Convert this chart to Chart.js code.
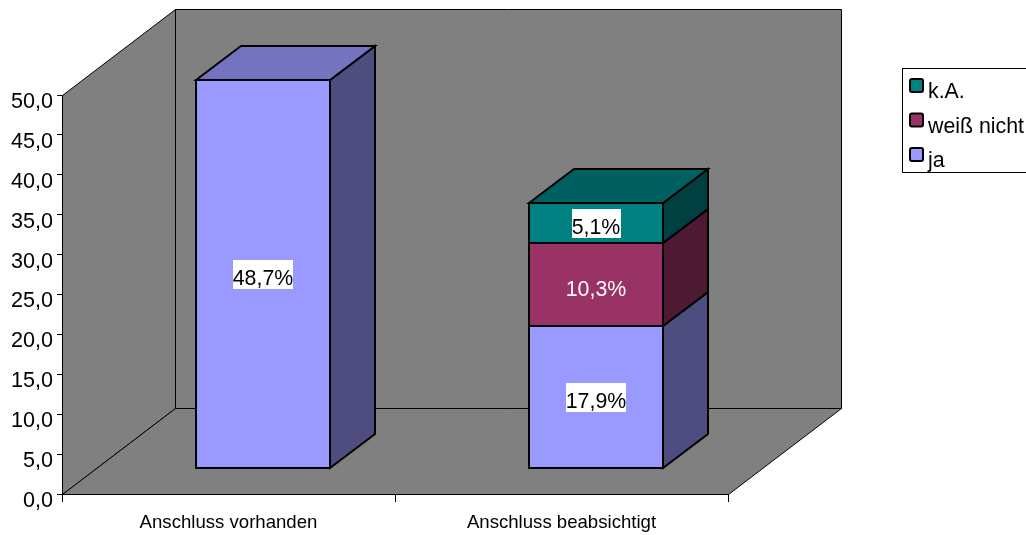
<!DOCTYPE html>
<html><head><meta charset="utf-8">
<style>html,body{margin:0;padding:0;background:#fff;overflow:hidden}canvas{display:block}</style>
<script src="https://cdn.jsdelivr.net/npm/chart.js@4"></script>
</head><body><canvas id="c" width="1026" height="535"></canvas>
<script>
const categories = ["Anschluss vorhanden", "Anschluss beabsichtigt"];
const ja = [48.7, 17.9];
const weissNicht = [null, 10.3];
const kA = [null, 5.1];
const yTicksStep = 5;
const FONT = "'Liberation Sans', Arial, sans-serif";
const num = v => v.toFixed(1).replace('.', ',');

const WALL_DX = 113, WALL_DY = 86;   // depth of the plot box
const BAR_OX = 34.5, BAR_OY = 25.5;  // bars stand this far into the box
const BAR_DX = 45, BAR_DY = 34;      // depth of each bar

function poly(ctx, pts, fill, lw) {
  ctx.beginPath();
  pts.forEach((p, i) => i ? ctx.lineTo(p[0], p[1]) : ctx.moveTo(p[0], p[1]));
  ctx.closePath();
  if (fill) { ctx.fillStyle = fill; ctx.fill(); }
  ctx.lineWidth = lw; ctx.strokeStyle = '#000'; ctx.lineJoin = 'miter'; ctx.stroke();
}

const box3d = {
  id: 'box3d',
  beforeDraw(chart) {
    const {ctx, chartArea: a} = chart;
    const l = a.left + .5, r = a.right + .5, t = a.top + .5, b = a.bottom + .5;
    const dx = WALL_DX, dy = WALL_DY;
    ctx.save();
    poly(ctx, [[l + dx, t - dy], [r + dx, t - dy], [r + dx, b - dy], [l + dx, b - dy]], '#808080', 1);
    poly(ctx, [[l, b], [l, t], [l + dx, t - dy], [l + dx, b - dy]], '#808080', 1);
    poly(ctx, [[l, b], [r, b], [r + dx, b - dy], [l + dx, b - dy]], '#808080', 1);
    ctx.restore();
  },
  beforeDatasetDraw(chart) {
    chart.ctx.save();
    chart.ctx.translate(BAR_OX, -BAR_OY);
  },
  afterDatasetDraw(chart) { chart.ctx.restore(); },
  afterDatasetsDraw(chart) {
    const ctx = chart.ctx;
    ctx.save();
    const n = chart.data.datasets.length;
    const labels = [];
    categories.forEach((_, i) => {
      let topIdx = -1;
      for (let d = 0; d < n; d++) if (chart.data.datasets[d].data[i] != null) topIdx = d;
      for (let d = 0; d < n; d++) {
        const ds = chart.data.datasets[d];
        if (ds.data[i] == null) continue;
        const el = chart.getDatasetMeta(d).data[i];
        const L = Math.round(el.x - el.width / 2 + BAR_OX), R = Math.round(el.x + el.width / 2 + BAR_OX);
        const T = Math.round(el.y - BAR_OY - .01), B = Math.round(el.base - BAR_OY - .01);
        poly(ctx, [[R, B], [R + BAR_DX, B - BAR_DY], [R + BAR_DX, T - BAR_DY], [R, T]], ds.sideColor, 2);
        if (d === topIdx) poly(ctx, [[L, T], [L + BAR_DX, T - BAR_DY], [R + BAR_DX, T - BAR_DY], [R, T]], ds.topColor, 2);
        poly(ctx, [[L, T], [R, T], [R, B], [L, B]], null, 2);
        labels.push({x: (L + R) / 2, y: (T + B) / 2, text: num(ds.data[i]) + '%', ds});
      }
    });
    ctx.font = '21.33px ' + FONT;
    ctx.textAlign = 'center';
    ctx.textBaseline = 'alphabetic';
    labels.forEach(o => {
      const w = ctx.measureText(o.text).width;
      if (o.ds.labelBox) { ctx.fillStyle = '#fff'; ctx.fillRect(Math.round(o.x - w / 2), Math.round(o.y - 14), Math.round(w), 29); }
      ctx.fillStyle = o.ds.labelColor;
      ctx.fillText(o.text, o.x, o.y + 11);
    });
    // legend
    ctx.lineWidth = 1; ctx.strokeStyle = '#000';
    ctx.strokeRect(902.5, 68.5, 130, 104);
    const rev = chart.data.datasets.slice().reverse();
    const rowsY = [85.5, 120, 154.5];
    ctx.textAlign = 'left';
    rev.forEach((ds, i) => {
      const y = rowsY[i];
      ctx.beginPath();
      ctx.roundRect(910, y - 6.5, 13, 13, 2);
      ctx.fillStyle = ds.backgroundColor; ctx.fill();
      ctx.lineWidth = 2; ctx.stroke();
      ctx.fillStyle = '#000';
      ctx.fillText(ds.label, 928, y + 12.5);
    });
    ctx.restore();
  }
};

new Chart(document.getElementById('c'), {
  type: 'bar',
  data: {
    labels: categories,
    datasets: [
      {label: 'ja', data: ja, backgroundColor: '#9999FF', sideColor: '#4D4D80', topColor: '#7373BF', labelColor: '#000', labelBox: true},
      {label: 'weiß nicht', data: weissNicht, backgroundColor: '#993366', sideColor: '#4D1933', topColor: '#73264D', labelColor: '#fff', labelBox: false},
      {label: 'k.A.', data: kA, backgroundColor: '#008080', sideColor: '#004040', topColor: '#006060', labelColor: '#000', labelBox: true}
    ]
  },
  options: {
    responsive: false, animation: false,
    layout: {padding: {left: 0, right: 298, top: 95, bottom: 0}},
    datasets: {bar: {barPercentage: 134 / 333, categoryPercentage: 1, borderWidth: 0, clip: false}},
    plugins: {legend: {display: false}, tooltip: {enabled: false}, title: {display: false}},
    events: [],
    scales: {
      x: {
        stacked: true,
        afterFit(s) { s.height = 41; },
        grid: {drawOnChartArea: false, drawTicks: true, tickLength: 8, color: '#000', offset: true},
        border: {display: true, color: '#000', width: 1},
        ticks: {font: {family: FONT, size: 18.6}, color: '#000', padding: 10, maxRotation: 0, autoSkip: false}
      },
      y: {
        stacked: true, min: 0, max: 50,
        afterFit(s) { s.width = 62; },
        grid: {drawOnChartArea: false, drawTicks: true, tickLength: 5, color: '#000'},
        border: {display: true, color: '#000', width: 1},
        ticks: {stepSize: yTicksStep, font: {family: FONT, size: 21.6}, color: '#000', padding: 4, labelOffset: 7,
          callback: v => num(v)}
      }
    }
  },
  plugins: [box3d]
});
</script></body></html>
